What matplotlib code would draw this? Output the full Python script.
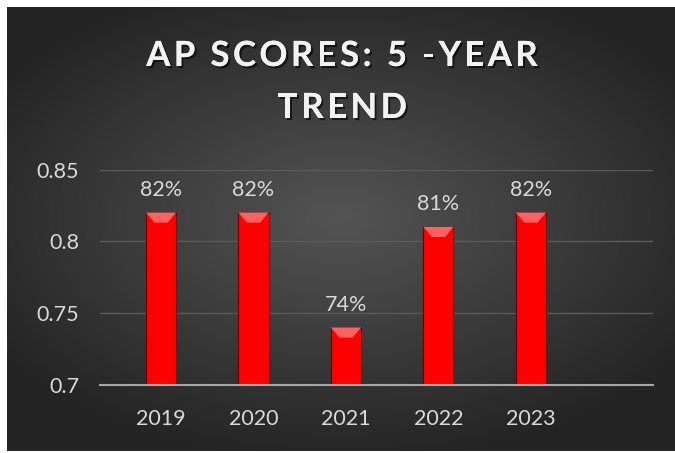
import numpy as np
import matplotlib
matplotlib.use('Agg')
import matplotlib.pyplot as plt
import matplotlib.patheffects as pe

years = ['2019', '2020', '2021', '2022', '2023']
scores = [0.82, 0.82, 0.74, 0.81, 0.82]
labels = ['82%', '82%', '74%', '81%', '82%']
yticks = [0.7, 0.75, 0.8, 0.85]
ytick_labels = ['0.7', '0.75', '0.8', '0.85']
title_lines = ['AP SCORES: 5 -YEAR', 'TREND']

W, H = 675, 453
fig = plt.figure(figsize=(W / 100, H / 100), dpi=100)
fig.patch.set_facecolor('white')

# radial gradient background
bg = fig.add_axes([7 / W, 2 / H, (W - 7) / W, (H - 9) / H])
yy, xx = np.mgrid[-1:1:300j, -1:1:400j]
r = np.sqrt((xx * 0.9) ** 2 + ((yy + 0.05) * 1.0) ** 2)
shade = np.clip(0.33 - 0.17 * r, 0.145, 0.33)
img = np.dstack([shade, shade, shade])
bg.imshow(img, aspect='auto', extent=[0, 1, 0, 1], interpolation='bilinear')
bg.set_axis_off()

ax = fig.add_axes([100 / W, (H - 385) / H, (653 - 100) / W, (385 - 169.5) / H])
ax.set_facecolor('none')
x = np.arange(len(years))
bars = ax.bar(x, [s - 0.7 for s in scores], bottom=0.7, width=0.325,
              color='#ff0000', edgecolor='#6a0000', linewidth=0.8, zorder=3)
# bevel highlight on top of each bar
for b in bars:
    bx, bw = b.get_x(), b.get_width()
    top = b.get_y() + b.get_height()
    ax.fill([bx, bx + bw, bx + bw * 0.72, bx + bw * 0.28],
            [top, top, top - 0.007, top - 0.007],
            color='#ff6060', zorder=4, linewidth=0)
for xi, s, lab in zip(x, scores, labels):
    ax.annotate(lab, (xi, s), xytext=(0, 9), textcoords='offset points',
                ha='center', va='bottom', color='#d9d9d9', fontsize=15.5,
                family='Lato')

ax.set_xlim(-0.66, 5.32)
ax.set_ylim(0.7, 0.85)
ax.set_yticks(yticks)
ax.set_yticklabels(ytick_labels)
ax.set_xticks(x)
ax.set_xticklabels(years)
ax.tick_params(length=0, colors='#d9d9d9', labelsize=15.5)
ax.tick_params(axis='x', pad=17)
ax.tick_params(axis='y', pad=15)
for t in ax.get_xticklabels() + ax.get_yticklabels():
    t.set_family('Lato')
ax.grid(axis='y', color='#5a5a5a', linewidth=1, zorder=0)
for side in ['top', 'right', 'left']:
    ax.spines[side].set_visible(False)
ax.spines['bottom'].set_color('#a6a6a6')
ax.spines['bottom'].set_linewidth(1.5)
ax.spines['bottom'].set_zorder(5)

# title with letter spacing, drawn char by char
renderer = fig.canvas.get_renderer()
shadow = [pe.withSimplePatchShadow(offset=(1.5, -1.5), shadow_rgbFace='black', alpha=0.6),
          pe.Normal()]
tprops = dict(color='#f2f2f2', fontsize=25, fontweight='bold', family='Lato',
              va='center', ha='left', path_effects=shadow)
track = 3.4
for line, yc in zip(title_lines, [56, 108]):
    widths = []
    for ch in line:
        probe = fig.text(0, 0, 'x' + ch + 'x', **tprops)
        w2 = probe.get_window_extent(renderer).width
        probe.remove()
        probe = fig.text(0, 0, 'xx', **tprops)
        w0 = probe.get_window_extent(renderer).width
        probe.remove()
        widths.append(w2 - w0)
    total = sum(widths) + track * (len(line) - 1)
    xpos = 342 - total / 2
    for ch, w in zip(line, widths):
        fig.text(xpos / W, 1 - yc / H, ch, **tprops)
        xpos += w + track

fig.savefig('out.png', dpi=100, facecolor=fig.get_facecolor())
